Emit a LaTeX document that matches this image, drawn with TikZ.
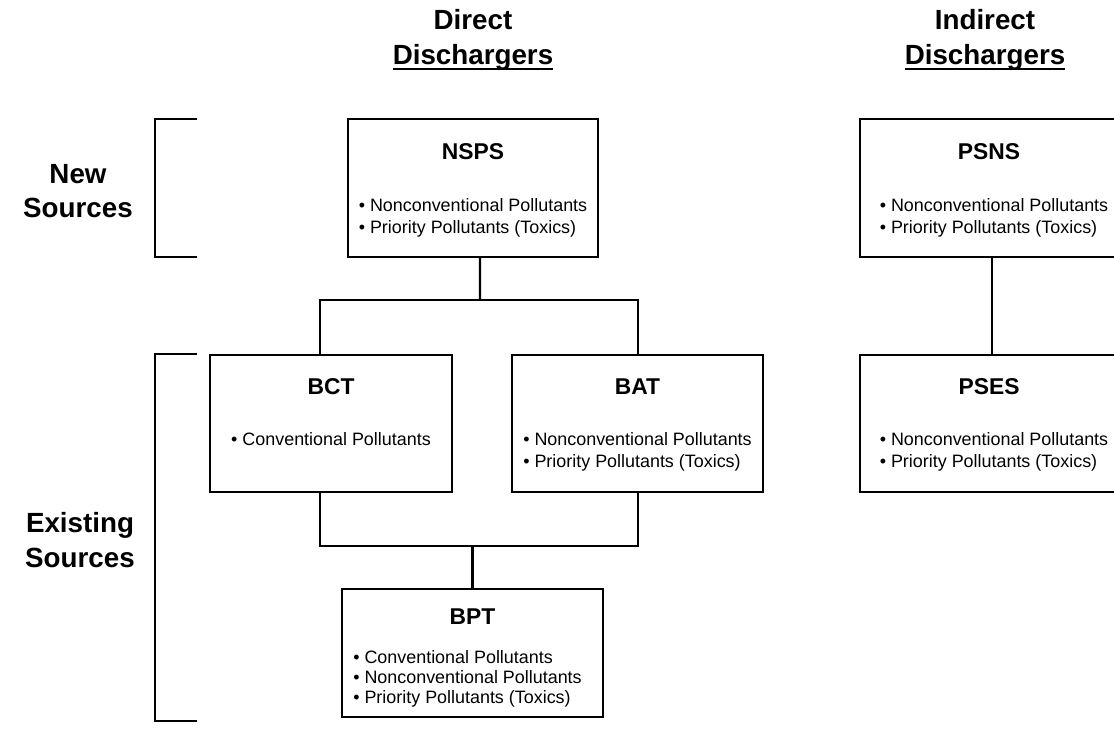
\documentclass[tikz,border=0pt]{standalone}
\usepackage{fontspec}
\setmainfont{Liberation Sans}
\usepackage{tikz}
\usetikzlibrary{positioning}

\newcommand{\ulword}[1]{\setbox0\hbox{#1}\rlap{\rule[-3.4pt]{\wd0}{1.2pt}}\box0}

\begin{document}
\begin{tikzpicture}[x=0.02cm, y=-0.02cm, line width=1.3pt,
    boxed/.style={draw, line width=1.4pt, inner sep=0pt},
    head/.style={font=\fontsize{15.8}{19.5}\selectfont\bfseries, align=center},
    title/.style={font=\fontsize{13}{15}\selectfont\bfseries},
    items/.style={font=\fontsize{10.2}{12.4}\selectfont, align=left, anchor=north, inner sep=0pt}]
    % frame of the picture
    \useasboundingbox (0,0) rectangle (1114,728);
    \clip (0,0) rectangle (1114,728);

    % column and row labels
    \node[head] (direct) at (473,40) {Direct\\\ulword{Dischargers}};
    \node[head] (indirect) at (985,40) {Indirect\\\ulword{Dischargers}};
    \node[head] (new) at (78,191) {New\\Sources};
    \node[head] (existing) at (80,540) {Existing\\Sources};

    % brackets
    \draw (197,119) -| (155,257) -- (197,257);
    \draw (197,354) -| (155,721) -- (197,721);

    % boxes
    \node[boxed, minimum width=5cm, minimum height=2.76cm] (nsps) at (473,188) {};
    \node[boxed, minimum width=5.16cm, minimum height=2.76cm] (psns) at (989,188) {};
    \node[boxed, minimum width=4.84cm, minimum height=2.74cm] (bct) at (331,423.5) {};
    \node[boxed, minimum width=5.02cm, minimum height=2.74cm] (bat) at (637.5,423.5) {};
    \node[boxed, minimum width=5.16cm, minimum height=2.74cm] (pses) at (989,423.5) {};
    \node[boxed, minimum width=5.22cm, minimum height=2.56cm] (bpt) at (472.5,653) {};

    % box texts
    \node[title, yshift=-0.68cm] (nsps-t) at (nsps.north) {NSPS};
    \node[items, yshift=-1.6cm] (nsps-l) at (nsps.north)
        {• Nonconventional Pollutants\\• Priority Pollutants (Toxics)};
    \node[title, yshift=-0.68cm] (psns-t) at (psns.north) {PSNS};
    \node[items, yshift=-1.6cm, xshift=0.1cm] (psns-l) at (psns.north)
        {• Nonconventional Pollutants\\• Priority Pollutants (Toxics)};
    \node[title, yshift=-0.66cm] (bct-t) at (bct.north) {BCT};
    \node[items, yshift=-1.56cm] (bct-l) at (bct.north) {• Conventional Pollutants};
    \node[title, yshift=-0.66cm] (bat-t) at (bat.north) {BAT};
    \node[items, yshift=-1.56cm] (bat-l) at (bat.north)
        {• Nonconventional Pollutants\\• Priority Pollutants (Toxics)};
    \node[title, yshift=-0.66cm] (pses-t) at (pses.north) {PSES};
    \node[items, yshift=-1.56cm, xshift=0.1cm] (pses-l) at (pses.north)
        {• Nonconventional Pollutants\\• Priority Pollutants (Toxics)};
    \node[title, yshift=-0.58cm] (bpt-t) at (bpt.north) {BPT};
    \node[items, yshift=-1.24cm, xshift=-0.1cm, font=\fontsize{10.2}{11.4}\selectfont] (bpt-l) at (bpt.north)
        {• Conventional Pollutants\\• Nonconventional Pollutants\\• Priority Pollutants (Toxics)};

    % connectors
    \coordinate (a-mid) at (480,300);
    \coordinate (a-left) at (320,300);
    \coordinate (a-right) at (638,300);
    \coordinate (b-left) at (320,546);
    \coordinate (b-right) at (638,546);
    \draw ([xshift=0.14cm]nsps.south) -- (a-mid);
    \draw (a-left |- bct.north) -- (a-left) -- (a-right) -- (a-right |- bat.north);
    \draw (b-left |- bct.south) -- (b-left) -- (b-right) -- (b-right |- bat.south);
    \draw (bpt.north) -- (bpt.north |- b-left);
    \draw ([xshift=0.06cm]psns.south) -- ([xshift=0.06cm]pses.north);

\end{tikzpicture}
\end{document}
